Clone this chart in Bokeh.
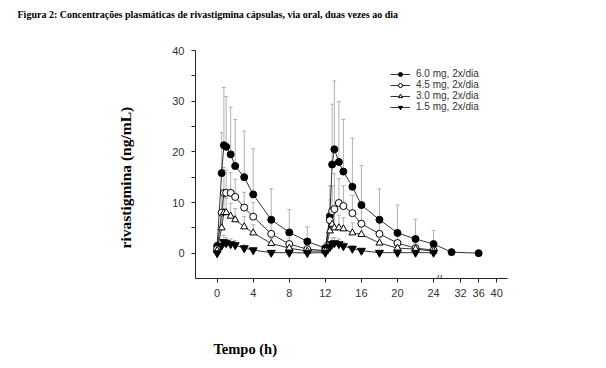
from bokeh.plotting import figure
from bokeh.models import (Label, FixedTicker, Whisker, ColumnDataSource, Legend,
                          LegendItem, Range1d, TeeHead, Title)
from bokeh.embed import file_html
from bokeh.resources import INLINE

# ---------------- data ----------------
t1 = [0, 0.5, 0.75, 1, 1.5, 2, 3, 4, 6, 8, 10, 12]
t2 = [12, 12.5, 12.75, 13, 13.5, 14, 15, 16, 18, 20, 22, 24]
t_tail = [30, 36]

m60_1 = [1.4, 15.8, 21.3, 21.0, 19.5, 17.2, 15.0, 11.6, 6.6, 4.1, 2.3, 1.0]
s60_1 = [0.8, 8.0, 11.4, 9.9, 9.3, 9.2, 9.1, 9.0, 6.1, 4.5, 2.9, 1.0]
m60_2 = [1.0, 7.3, 17.5, 20.5, 18.0, 16.1, 13.1, 9.5, 6.6, 4.0, 2.8, 1.8]
s60_2 = [0.8, 6.0, 11.9, 13.5, 11.9, 10.3, 9.6, 7.8, 6.1, 5.5, 3.9, 2.7]
m60_tail = [0.2, 0.0]

m45_1 = [0.8, 8.0, 11.9, 11.9, 11.9, 11.1, 9.0, 7.2, 3.8, 1.8, 0.8, 0.5]
s45_1 = [0.5, 4.0, 5.0, 4.5, 4.0, 3.5, 3.0, 2.8, 2.0, 1.2, 0.8, 0.5]
m45_2 = [0.8, 6.5, 8.3, 8.7, 9.9, 9.3, 7.9, 5.8, 3.8, 2.0, 1.0, 0.6]
s45_2 = [0.5, 4.0, 5.0, 7.0, 4.8, 4.0, 3.5, 3.0, 2.0, 1.5, 1.0, 0.6]

m30_1 = [0.5, 5.0, 8.0, 8.0, 7.3, 6.6, 5.2, 4.0, 1.9, 1.0, 0.4, 0.4]
s30_1 = [0.4, 2.5, 3.0, 2.8, 2.5, 2.2, 2.0, 1.6, 1.0, 0.6, 0.4, 0.3]
m30_2 = [0.7, 4.4, 5.7, 5.0, 5.0, 4.8, 4.0, 3.7, 2.0, 1.0, 0.8, 0.4]
s30_2 = [0.4, 2.6, 3.2, 3.0, 2.5, 2.2, 2.0, 1.6, 1.0, 0.6, 0.4, 0.3]

m15_1 = [0.0, 1.5, 2.2, 2.0, 1.8, 1.6, 1.0, 0.6, 0.1, 0.1, 0.05, 0.1]
s15_1 = [0.2, 1.2, 1.3, 1.1, 1.0, 0.9, 0.6, 0.4, 0.2, 0.1, 0.1, 0.1]
m15_2 = [0.1, 1.2, 1.8, 2.0, 1.8, 1.4, 0.9, 0.5, 0.1, 0.1, 0.1, 0.1]
s15_2 = [0.1, 1.0, 1.2, 1.1, 1.0, 0.8, 0.6, 0.4, 0.2, 0.1, 0.1, 0.1]

x_ticks = [0, 4, 8, 12, 16, 20, 24, 32, 36, 40]
y_ticks = [0, 10, 20, 30, 40]
y_minor = [5, 15, 25, 35]
labels = ["6.0 mg, 2x/dia", "4.5 mg, 2x/dia", "3.0 mg, 2x/dia", "1.5 mg, 2x/dia"]

TITLE = "Figura 2: Concentrações plasmáticas de rivastigmina cápsulas, via oral, duas vezes ao dia"
YLABEL = "rivastigmina (ng/mL)"
XLABEL = "Tempo (h)"


def xmap(h):
    """Broken time axis: linear up to 24 h, compressed after the break."""
    v = h if h <= 24 else 27 + (h - 32) * 0.5
    return int(v) if float(v).is_integer() else v


# ---------------- figure ----------------
W, H = 590, 360
p = figure(width=W, height=H, output_backend="svg", toolbar_location=None,
           x_range=Range1d(-2.4, 32.2), y_range=Range1d(-5, 40),
           min_border_left=195, min_border_right=83,
           min_border_top=50, min_border_bottom=82)
p.outline_line_color = None
p.xgrid.visible = False
p.ygrid.visible = False
p.background_fill_color = "white"

FONT = "Liberation Sans"
SERIF = "Liberation Serif"

for ax in (p.xaxis[0], p.yaxis[0]):
    ax.axis_line_color = "#222222"
    ax.major_tick_line_color = "#222222"
    ax.minor_tick_line_color = "#222222"
    ax.major_tick_in = 0
    ax.major_tick_out = 4
    ax.minor_tick_in = 0
    ax.minor_tick_out = 4
    ax.major_label_text_font = FONT
    ax.major_label_text_font_size = "11px"
    ax.major_label_text_color = "#333333"

p.xaxis.ticker = FixedTicker(ticks=[xmap(t) for t in x_ticks])
p.xaxis.major_label_overrides = {xmap(t): str(t) for t in x_ticks}
p.xaxis.major_label_standoff = 6
p.xaxis.minor_tick_out = 0

p.yaxis.ticker = FixedTicker(ticks=y_ticks, minor_ticks=y_minor)
p.yaxis.major_label_standoff = 7

GRAY = "#b0b0b0"


def add_series(ts, ms, ss, marker, fill, size):
    xs = [xmap(t) for t in ts]
    up = [m + s for m, s in zip(ms, ss)]
    src = ColumnDataSource(dict(x=xs, y=ms, up=up))
    w = Whisker(source=src, base="x", lower="y", upper="up",
                line_color=GRAY, line_width=1, lower_head=None,
                upper_head=TeeHead(size=4, line_color=GRAY, line_width=1))
    w.level = "underlay"
    p.add_layout(w)
    ln = p.line("x", "y", source=src, line_color="black", line_width=0.8)
    sc = p.scatter("x", "y", source=src, marker=marker, size=size,
                   fill_color=fill, line_color="black", line_width=1)
    return ln, sc


r60 = add_series(t1 + t2[1:] + t_tail, m60_1 + m60_2[1:] + m60_tail,
                 s60_1 + s60_2[1:] + [0, 0], "circle", "black", 7)
r45 = add_series(t1 + t2[1:], m45_1 + m45_2[1:], s45_1 + s45_2[1:],
                 "circle", "white", 7)
r30 = add_series(t1 + t2[1:], m30_1 + m30_2[1:], s30_1 + s30_2[1:],
                 "triangle", "white", 7)
r15 = add_series(t1 + t2[1:], m15_1 + m15_2[1:], s15_1 + s15_2[1:],
                 "inverted_triangle", "black", 8)

legend = Legend(items=[LegendItem(label=lab, renderers=list(r))
                       for lab, r in zip(labels, [r60, r45, r30, r15])],
                location=(195, 166), padding=0, margin=0, spacing=0,
                label_height=10, glyph_height=10, glyph_width=20,
                label_standoff=6, label_text_font=FONT,
                label_text_font_size="10px", label_text_color="#333333",
                border_line_color=None, background_fill_alpha=0)
p.add_layout(legend)

# break mark on the x axis
p.add_layout(Label(x=24.6, y=-5, text="//", text_font=FONT,
                   text_font_size="11px", text_align="center",
                   text_baseline="middle", text_color="#333333"))

# title (top left), y label (left) and x-axis label (below, left of centre)
p.add_layout(Title(text=TITLE, align="left", offset=-178, standoff=0,
                   padding=dict(left=0, right=0, top=0, bottom=31),
                   text_font=SERIF, text_font_style="bold",
                   text_font_size="10px", text_color="black"), "above")
p.add_layout(Title(text=YLABEL, align="left", offset=30, standoff=72,
                   text_font=SERIF, text_font_style="bold",
                   text_font_size="15.5px", text_color="black"), "left")
p.add_layout(Title(text=XLABEL, align="left", offset=18, standoff=0,
                   padding=dict(left=0, right=0, top=39, bottom=0),
                   text_font=SERIF, text_font_style="bold",
                   text_font_size="14.5px", text_color="black"), "below")

open("out.html", "w").write(file_html(p, INLINE))
